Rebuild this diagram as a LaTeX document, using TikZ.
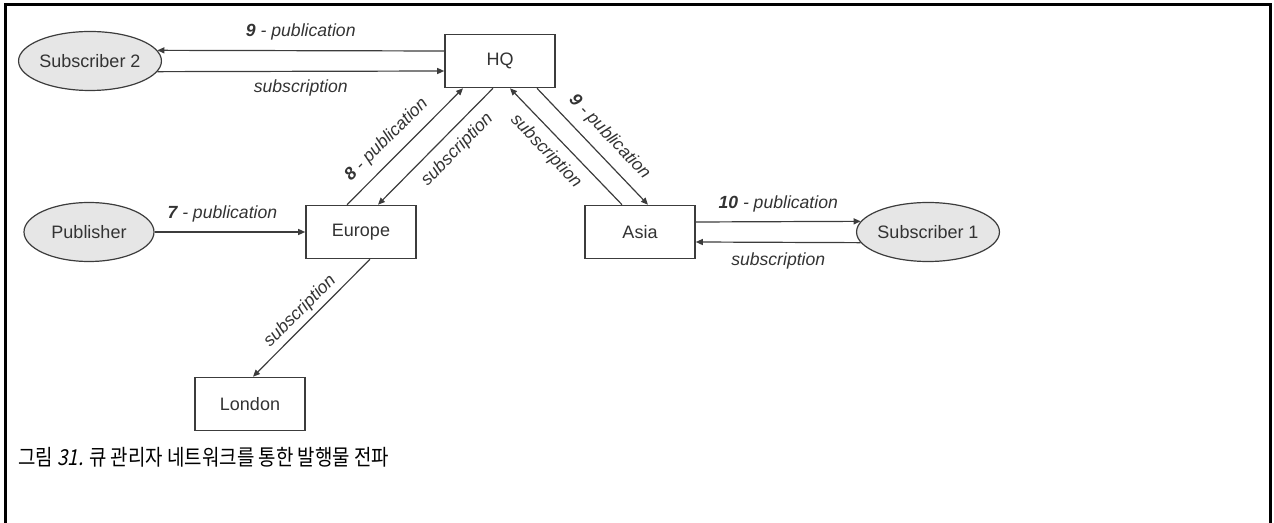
\documentclass[tikz,border=0pt]{standalone}
\usepackage{fontspec}
\setmainfont{Liberation Sans}
\newfontfamily\krfont{Noto Sans CJK KR}[FakeStretch=0.86]
\newfontfamily\krslant{Noto Sans CJK KR}[FakeStretch=0.86, FakeSlant=0.2]
\usetikzlibrary{shapes.geometric, arrows.meta, positioning}
\definecolor{traco}{HTML}{3C3C3C}
\definecolor{texto}{HTML}{333333}
\definecolor{cinza}{HTML}{E6E6E6}
\tikzset{
  qm/.style = {rectangle, draw=traco, fill=white, text=texto, inner sep=0pt,
    minimum width=55pt, minimum height=26.5pt, line width=0.8pt,
    font=\fontsize{9pt}{11pt}\selectfont},
  cli/.style = {ellipse, draw=traco, fill=cinza, text=texto, inner sep=0pt,
    minimum width=65pt, minimum height=29.5pt, line width=0.6pt,
    font=\fontsize{9pt}{11pt}\selectfont},
  seta/.style = {-{Triangle[length=3.5pt, width=3pt]}, line width=0.6pt, draw=traco},
  rot/.style = {font=\fontsize{8.8pt}{10pt}\selectfont\itshape, text=texto,
    inner sep=1pt},
  moldura/.style = {draw=black, line width=1.5pt}
}

\begin{document}
\begin{tikzpicture}[x=0.5pt, y=-0.5pt]
  \useasboundingbox (0,0) rectangle (1274,523);
  \draw [moldura] (5,523) -- (5,5) -- (1270,5) -- (1270,523);

  \node [qm] (hq) at (500,61) {HQ};
  \node [qm] (eur) at (361,232) {Europe};
  \node [qm] (asia) at (640,232) {Asia};
  \node [qm] (lon) at (250,404) {London};
  \node [cli] (sub2) at (90,61) {Subscriber 2};
  \node [cli] (pub) at (89,232) {Publisher};
  \node [cli] (sub1) at (928,232) {Subscriber 1};

  \draw [seta] ([yshift=5pt]hq.west) -- (sub2.9)
    node [rot, midway, above=4pt] {\textbf{9} - publication};
  \draw [seta] (sub2.-9) -- ([yshift=-5pt]hq.west)
    node [rot, midway, below=3pt] {subscription};

  \draw [seta] (pub.east) -- (eur.west)
    node [rot, pos=0.45, above=3.5pt] {\textbf{7} - publication};

  \draw [seta] ([xshift=-7pt]eur.north) -- ([xshift=-18.5pt]hq.south)
    node [rot, sloped, pos=0.45, above=3.5pt] {\textbf{8} - publication};
  \draw [seta] ([xshift=-3.5pt]hq.south) -- ([xshift=8.5pt]eur.north)
    node [rot, sloped, pos=0.42, below=3.5pt] {subscription};

  \draw [seta] ([xshift=-9pt]asia.north) -- ([xshift=5pt]hq.south)
    node [rot, sloped, pos=0.565, below=3.5pt] {subscription};
  \draw [seta] ([xshift=18.5pt]hq.south) -- ([xshift=4pt]asia.north)
    node [rot, sloped, pos=0.53, above=4pt] {\textbf{9} - publication};

  \draw [seta] ([yshift=5pt]asia.east) -- (sub1.171)
    node [rot, midway, above=3.5pt] {\textbf{10} - publication};
  \draw [seta] (sub1.189) -- ([yshift=-5pt]asia.east)
    node [rot, midway, below=4pt] {subscription};

  \draw [seta] ([xshift=4.5pt]eur.south) -- ([xshift=1.5pt]lon.north)
    node [rot, sloped, pos=0.52, above=1pt] {subscription};

  \node [anchor=west, inner sep=0pt, font=\krfont\fontsize{11pt}{13pt}\selectfont]
    (legenda) at (18,457) {그림 {\krslant 31.} 큐 관리자 네트워크를 통한 발행물 전파};
\end{tikzpicture}
\end{document}
